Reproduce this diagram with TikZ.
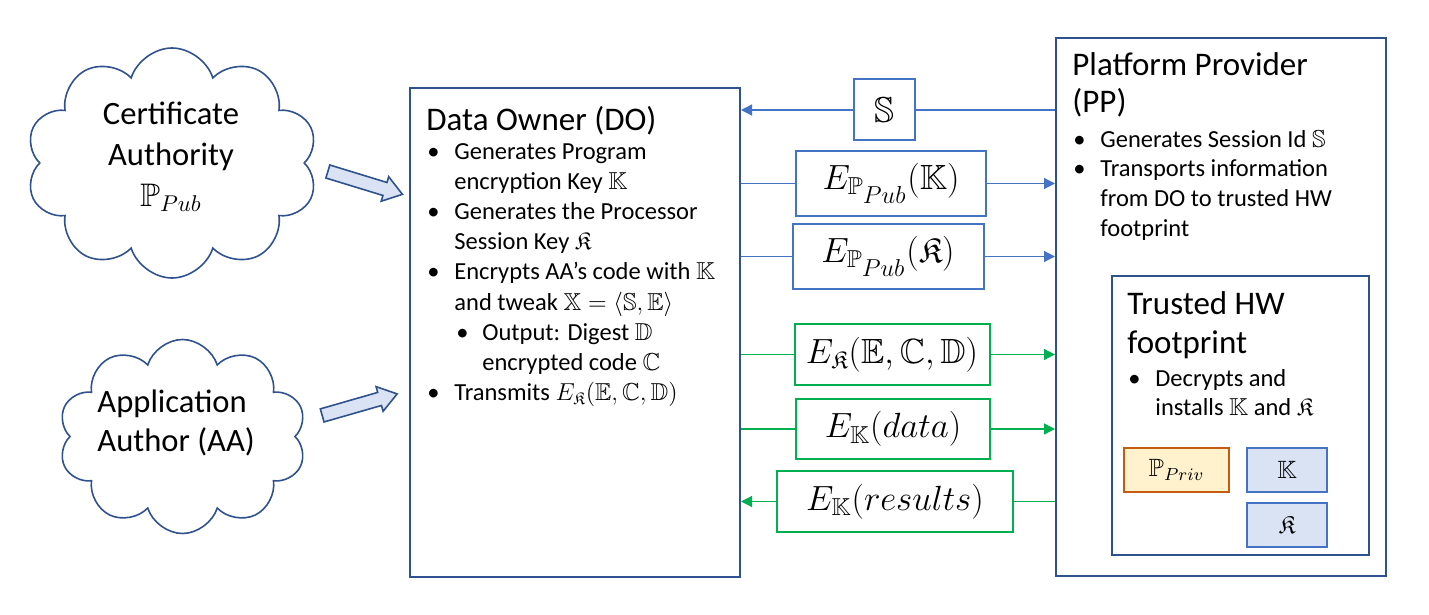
\RequirePackage{fix-cm}
\documentclass[tikz,border=0pt]{standalone}
\usepackage{amsmath}
\usepackage{amssymb}
\usepackage[no-math]{fontspec}
\setmainfont{Carlito}
\usetikzlibrary{arrows.meta}
\usetikzlibrary{shapes.symbols,shapes.arrows}
\usetikzlibrary{backgrounds}

\definecolor{darkblue}{HTML}{2F528F}
\definecolor{midblue}{HTML}{4472C4}
\definecolor{msggreen}{HTML}{00B050}
\definecolor{keyfill}{HTML}{DAE3F3}
\definecolor{privline}{HTML}{C55A11}
\definecolor{privfill}{HTML}{FFF2CC}

\newcommand{\bul}{\makebox[14pt][l]{\hspace{0.5pt}\textbullet}}
\newcommand{\ind}{\hspace*{14pt}}
\newcommand{\subbul}{\hspace*{15pt}\makebox[13pt][l]{\textbullet}}
\newcommand{\subind}{\hspace*{28pt}}
\newcommand{\txtleft}[1]{\begin{tabular}[t]{@{}l@{}}#1\end{tabular}}
\newcommand{\txtmid}[1]{\begin{tabular}[t]{@{}c@{}}#1\end{tabular}}

\begin{document}
\begin{tikzpicture}[x=0.5pt, y=-0.5pt,
        party/.style={rectangle, draw=darkblue, line width=1pt, inner sep=0pt},
        cloudy/.style={cloud, cloud puffs=10, cloud puff arc=145, draw=darkblue, line width=0.8pt, inner sep=0pt},
        blockarrow/.style={single arrow, draw=darkblue, fill=keyfill, line width=0.8pt,
            inner xsep=0pt, inner ysep=3pt, minimum height=39pt,
            single arrow head extend=3pt, single arrow tip angle=70, single arrow head indent=0pt},
        msg/.style={rectangle, draw=#1, line width=1pt, fill=white, inner sep=0pt,
            font=\fontsize{17.5}{20}\selectfont},
        keybox/.style={rectangle, draw=midblue, fill=keyfill, line width=1pt, inner sep=0pt,
            minimum width=40pt, minimum height=22pt, font=\fontsize{12.5}{15}\selectfont},
        paths/.style={line width=0.6pt, -{Triangle[length=5.5pt,width=5.5pt]}},
        heading/.style={anchor=base west, inner sep=0pt, font=\fontsize{16.5}{18.5}\selectfont},
        bullets/.style={anchor=base west, inner sep=0pt, font=\fontsize{12.25}{15.1}\selectfont}
    ]
    \useasboundingbox (0,0) rectangle (1429,615);

        % Clouds
        \node[cloudy, minimum width=146pt, minimum height=115pt] (ca) at (172,163) {};
        \node[anchor=base, inner sep=0pt, font=\fontsize{16.3}{20.5}\selectfont] (ca text) at (171,125)
            {\txtmid{Certificate\\Authority\\$\mathbb{P}_{Pub}$}};
        \node[cloudy, minimum width=124pt, minimum height=97pt] (aa) at (182.5,436.5) {};
        \node[anchor=base west, inner sep=0pt, font=\fontsize{16.3}{19.5}\selectfont] (aa text) at (97,412.7)
            {\txtleft{Application\\Author (AA)}};

        \node[blockarrow, rotate=-17] (ca arrow) at (360.5,181.5) {};
        \node[blockarrow, rotate=16] (aa arrow) at (355,406) {};

        % Data owner
        \node[party, minimum width=165pt, minimum height=244.5pt] (do) at (575,332.5) {};
        \node[heading] (do title) at (426,131) {Data Owner (DO)};
        \node[bullets] (do list) at (426,159) {\txtleft{%
            \bul Generates Program\\
            \ind encryption Key $\mathbb{K}$\\
            \bul Generates the Processor\\
            \ind Session Key $\mathfrak{K}$\\
            \bul Encrypts AA’s code with $\mathbb{K}$\\
            \ind and tweak $\mathbb{X}=\langle\mathbb{S},\mathbb{E}\rangle$\\
            \subbul Output: Digest $\mathbb{D}$\\
            \subind encrypted code $\mathbb{C}$\\
            \bul Transmits $E_{\mathfrak{K}}(\mathbb{E},\mathbb{C},\mathbb{D})$}};

        % Platform provider
        \node[party, minimum width=165pt, minimum height=269pt] (pp) at (1221,307) {};
        \node[heading] (pp title) at (1072,75.7) {\txtleft{Platform Provider\\(PP)}};
        \node[bullets, font=\fontsize{12.25}{14.8}\selectfont] (pp list) at (1072,147.3) {\txtleft{%
            \bul Generates Session Id $\mathbb{S}$\\
            \bul Transports information\\
            \ind from DO to trusted HW\\
            \ind footprint}};

        \node[party, minimum width=128.5pt, minimum height=139.5pt] (hw) at (1240.5,415.5) {};
        \node[heading, font=\fontsize{16.5}{19.5}\selectfont] (hw title) at (1127,314) {\txtleft{Trusted HW\\footprint}};
        \node[bullets, font=\fontsize{12.25}{14.85}\selectfont] (hw list) at (1127,386) {\txtleft{%
            \bul Decrypts and\\
            \ind installs $\mathbb{K}$ and $\mathfrak{K}$}};

        \node[keybox, draw=privline, fill=privfill, minimum width=52.5pt] (ppriv) at (1176.5,470) {$\mathbb{P}_{Priv}$};
        \node[keybox] (k) at (1287,470) {$\mathbb{K}$};
        \node[keybox] (r) at (1287,525) {$\mathfrak{K}$};

        % Messages
        \node[msg=midblue, minimum width=30.5pt, minimum height=30.5pt, font=\fontsize{18}{20}\selectfont] (s) at (884.5,110) {$\mathbb{S}$};
        \node[msg=midblue, minimum width=95pt, minimum height=32.5pt] (epk) at (891,183.5) {$E_{\mathbb{P}_{\scriptstyle Pub}}(\mathbb{K})$};
        \node[msg=midblue, minimum width=95.5pt, minimum height=32.5pt] (epr) at (888,256.5) {$E_{\mathbb{P}_{\scriptstyle Pub}}(\mathfrak{K})$};
        \node[msg=msggreen, minimum width=97.5pt, minimum height=30.5pt] (ecd) at (892,354.5) {$E_{\mathfrak{K}}(\mathbb{E},\mathbb{C},\mathbb{D})$};
        \node[msg=msggreen, minimum width=97pt, minimum height=30pt] (ekd) at (893,429) {$E_{\mathbb{K}}(data)$};
        \node[msg=msggreen, minimum width=118pt, minimum height=30.5pt] (ekr) at (895,501.5) {$E_{\mathbb{K}}(results)$};

        % Paths
        \begin{scope}[on background layer]
        \draw[paths, midblue] (pp.west |- s) -- (do.east |- s);
        \draw[paths, midblue] (do.east |- epk) -- (pp.west |- epk);
        \draw[paths, midblue] (do.east |- epr) -- (pp.west |- epr);
        \draw[paths, msggreen] (do.east |- ecd) -- (pp.west |- ecd);
        \draw[paths, msggreen] (do.east |- ekd) -- (pp.west |- ekd);
        \draw[paths, msggreen] (pp.west |- ekr) -- (do.east |- ekr);
        \end{scope}
\end{tikzpicture}
\end{document}
